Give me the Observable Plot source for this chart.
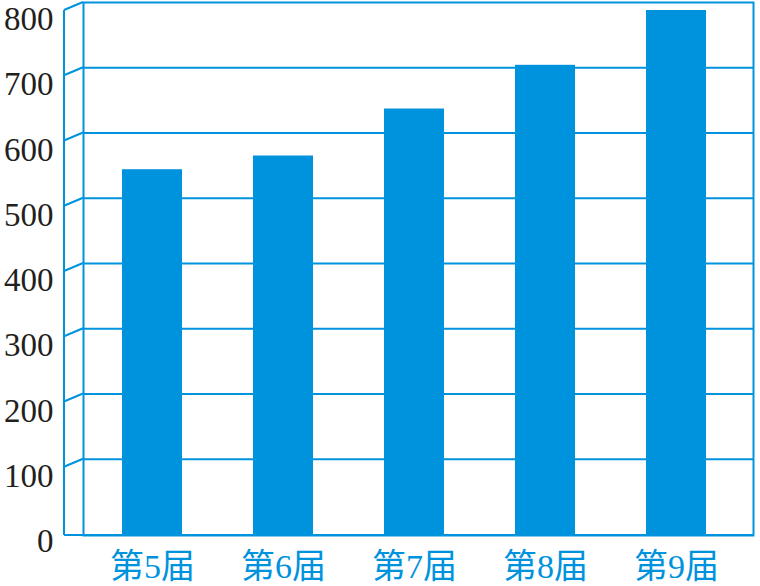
<!DOCTYPE html>
<html>
<head>
<meta charset="utf-8">
<script src="https://cdn.jsdelivr.net/npm/d3@7"></script>
<script src="https://cdn.jsdelivr.net/npm/@observablehq/plot@0.6"></script>
<style>
  html, body { margin: 0; padding: 0; background: #fff; }
  svg { display: block; }
</style>
</head>
<body>
<div id="chart"></div>
<script>
// Data
const sessions = ["第5届", "第6届", "第7届", "第8届", "第9届"];
const values = [556, 577, 649, 716, 800];
const yTicks = [0, 100, 200, 300, 400, 500, 600, 700, 800];

const table = sessions.map((s, i) => ({session: s, value: values[i]}));

const BLUE = "#0093dd";
const DEPTH_X = 19;   // depth of the pseudo-3D wall (px)
const DEPTH_Y = 8;

// Front wall of the pseudo-3D chart, drawn through the y scale
function frontWall(index, scales, values, dims) {
  const y = scales.y;
  const g = d3.create("svg:g")
    .attr("stroke", BLUE)
    .attr("stroke-width", 2)
    .attr("fill", "none");
  const xBack = dims.marginLeft;
  const xFront = xBack - DEPTH_X;
  const top = y(d3.max(yTicks));
  const base = y(0) + 3;
  // front vertical edge
  g.append("line")
    .attr("x1", xFront).attr("x2", xFront)
    .attr("y1", top).attr("y2", base);
  // floor line
  g.append("line")
    .attr("x1", xFront).attr("x2", dims.width - dims.marginRight)
    .attr("y1", base).attr("y2", base);
  // diagonal ticks
  for (const v of yTicks.filter(v => v > 0)) {
    g.append("line")
      .attr("x1", xFront).attr("y1", y(v))
      .attr("x2", xBack).attr("y2", y(v) - DEPTH_Y);
  }
  return g.node();
}

const chart = Plot.plot({
  width: 760,
  height: 586,
  marginLeft: 83,
  marginRight: 7,
  marginTop: 10,
  marginBottom: 54,
  style: {background: "#fff", overflow: "visible"},
  x: {type: "band", domain: sessions, paddingInner: 0.543, paddingOuter: 0.325, align: 0.457, axis: null},
  y: {domain: [0, 800], axis: null},
  marks: [
    Plot.ruleY(yTicks.filter(v => v > 0 && v < 800), {dy: -DEPTH_Y, stroke: BLUE, strokeWidth: 2}),
    Plot.frame({stroke: BLUE, strokeWidth: 2, insetTop: -DEPTH_Y, insetBottom: -3}),
    frontWall,
    Plot.rectY(table, {x: "session", y: "value", fill: BLUE, insetBottom: -3}),
    Plot.text(yTicks, {
      y: d => d, text: d => String(d), frameAnchor: "left", textAnchor: "end",
      dx: -30, dy: 9, fontSize: 33, fill: "#231f20",
      fontFamily: "'Liberation Serif', 'Times New Roman', serif"
    }),
    Plot.text(sessions, {
      x: d => d, text: d => d, frameAnchor: "bottom", lineAnchor: "middle",
      dy: 35, fontSize: 34, fill: BLUE,
      fontFamily: "'Liberation Serif', 'Noto Sans CJK SC', serif"
    })
  ]
});

document.getElementById("chart").appendChild(chart);
</script>
</body>
</html>
